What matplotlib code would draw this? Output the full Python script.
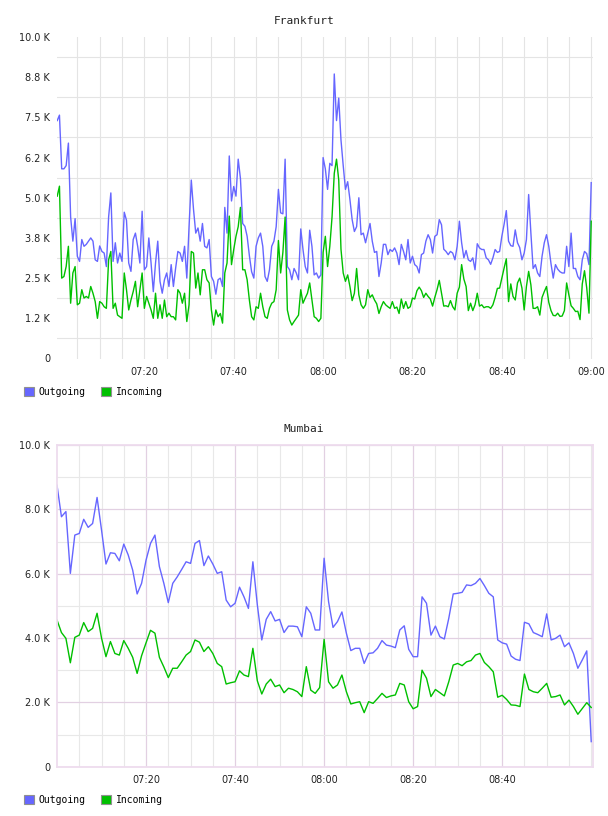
import numpy as np
import matplotlib
matplotlib.use("Agg")
import matplotlib.pyplot as plt
from matplotlib.patches import Patch

# ---------------- data (values in thousands) ----------------
# Frankfurt: one sample every 30 s, from 07:00:30 to 09:00:00
fra_outgoing = [
    7.4, 7.57, 5.9, 5.9, 6.0, 6.7, 4.4, 3.65, 4.35, 3.18,
    3.02, 3.7, 3.49, 3.55, 3.65, 3.75, 3.65, 3.07, 3.02, 3.5,
    3.33, 3.28, 2.86, 4.4, 5.15, 3.02, 3.6, 2.97, 3.28, 3.02,
    4.55, 4.3, 2.97, 2.71, 3.7, 3.9, 3.49, 2.97, 4.58, 2.76,
    2.86, 3.75, 2.97, 2.08, 2.97, 3.65, 2.4, 2.03, 2.45, 2.66,
    2.24, 2.92, 2.24, 2.81, 3.33, 3.28, 3.02, 3.49, 2.5, 4.1,
    5.55,
    4.64, 3.9, 4.06, 3.65, 4.2, 3.49, 3.44, 3.7, 2.55, 2.4,
    2.0, 2.45, 2.5, 2.24, 4.7, 3.9, 6.3, 4.9, 5.35, 5.05,
    6.2, 5.6, 4.2, 4.11, 3.8, 3.2, 2.7, 2.5, 3.49, 3.75,
    3.9, 3.49, 2.55, 2.4, 2.76, 3.49, 3.65, 4.1, 5.26, 4.53,
    4.5, 6.2, 2.86, 2.76, 2.45, 2.8, 2.66, 2.45, 4.03, 3.39,
    2.86, 2.66, 3.99, 3.49, 2.6, 2.66, 2.5, 2.6, 6.25,
    5.9, 5.26, 6.07, 6.0, 8.85, 7.4, 8.1, 6.8, 6.0, 5.26,
    5.5, 4.95, 4.32, 3.95, 4.1, 5.0, 3.85, 3.9, 3.6, 3.9,
    4.2, 3.65, 3.3, 3.33, 2.55, 2.97, 3.55, 3.55, 3.23, 3.39,
    3.33, 3.44, 3.28, 2.92, 3.55, 3.33, 3.07, 3.7, 2.97, 3.18,
    2.92, 2.86, 2.66, 3.23, 3.28, 3.65, 3.85, 3.7, 3.28, 3.8,
    3.85, 4.32, 4.16, 3.4, 3.33, 3.23, 3.33, 3.28, 3.07, 3.49,
    4.27, 3.6, 3.13, 3.36, 3.07, 3.02, 3.13, 2.76, 3.57, 3.44,
    3.39, 3.39, 3.13, 3.07, 2.93, 3.13, 3.39, 3.3, 3.33, 3.8,
    4.17, 4.6, 3.65, 3.51, 3.49, 4.0, 3.6, 3.45, 3.07, 3.28,
    3.7, 5.1, 3.9, 2.8, 2.92, 2.66, 2.55, 3.18, 3.6, 3.85,
    3.49, 2.95, 2.5, 2.92, 2.78, 2.7, 2.66, 2.66, 3.49, 2.86,
    3.9, 2.8, 2.8, 2.55, 2.45, 3.07, 3.33, 3.26, 2.92, 5.47,
]
fra_incoming = [
    5.05, 5.36, 2.5, 2.55, 2.86, 3.49, 1.72, 2.66, 2.86, 1.67,
    1.72, 2.14, 1.88, 1.93, 1.88, 2.24, 2.03, 1.77, 1.25, 1.77,
    1.72, 1.61, 1.56, 3.07, 3.33, 1.56, 1.72, 1.35, 1.3, 1.25,
    2.66, 2.14, 1.51, 1.82, 2.08, 2.4, 1.61, 2.14, 2.66, 1.56,
    1.93, 1.72, 1.51, 1.25, 2.03, 1.25, 1.67, 1.25, 1.82, 1.3,
    1.41, 1.3, 1.3, 1.2, 2.14, 2.03, 1.72, 2.03, 1.15, 1.67,
    3.33,
    3.28, 2.19, 2.66, 1.98, 2.76, 2.76, 2.45, 2.35, 1.51, 1.04,
    1.51, 1.3, 1.4, 1.1, 2.66, 2.97, 4.43, 2.92, 3.39, 3.8,
    4.1, 4.7, 2.76, 2.76, 2.45, 1.82, 1.3, 1.2, 1.61, 1.56,
    2.03, 1.61, 1.3, 1.25, 1.56, 1.72, 1.77, 2.14, 3.67, 2.66,
    3.3, 4.4, 1.51, 1.2, 1.04, 1.15, 1.25, 1.35, 2.14, 1.72,
    1.88, 2.03, 2.35, 1.82, 1.3, 1.25, 1.15, 1.25, 3.3,
    3.8, 2.86, 3.49, 4.4, 5.76, 6.2, 5.55, 3.4, 2.66, 2.4,
    2.6, 2.24, 1.8, 2.03, 2.8, 1.98, 1.67, 1.56, 1.67, 2.14,
    1.9, 1.98, 1.82, 1.7, 1.4, 1.61, 1.77, 1.67, 1.61, 1.56,
    1.77, 1.56, 1.6, 1.4, 1.85, 1.56, 1.77, 1.56, 1.61, 1.88,
    1.85, 2.11, 2.22, 2.11, 1.9, 2.03, 1.93, 1.85, 1.63, 1.9,
    2.14, 2.43, 2.03, 1.63, 1.64, 1.61, 1.8, 1.61, 1.51, 2.03,
    2.22, 2.92, 2.47, 2.24, 1.49, 1.72, 1.49, 1.67, 2.03, 1.63,
    1.67, 1.58, 1.61, 1.61, 1.56, 1.67, 1.9, 2.18, 2.19, 2.5,
    2.81, 3.1, 1.77, 2.32, 1.93, 1.82, 2.35, 2.5, 2.19, 1.51,
    2.24, 2.71, 2.29, 1.56, 1.56, 1.61, 1.35, 1.9, 2.08, 2.24,
    1.75, 1.49, 1.34, 1.33, 1.41, 1.31, 1.32, 1.49, 2.35, 1.98,
    1.64, 1.56, 1.46, 1.47, 1.21, 2.32, 2.73, 2.19, 1.41, 4.27,
]
# Mumbai: one sample per minute, 07:00 .. 09:00
mum_outgoing = [
    8.75, 7.77, 7.93, 6.01, 7.2, 7.25, 7.69, 7.44, 7.56, 8.37,
    7.36, 6.3, 6.65, 6.63, 6.4, 6.92, 6.58, 6.11, 5.37, 5.7,
    6.42, 6.94, 7.2, 6.22, 5.7, 5.1, 5.7, 5.9, 6.13, 6.37,
    6.32, 6.94, 7.03, 6.25, 6.55, 6.3, 6.01, 6.06, 5.18, 4.97,
    5.08, 5.58, 5.28, 4.92, 6.37, 5.03, 3.94, 4.58, 4.82, 4.53,
    4.58, 4.17, 4.37, 4.37, 4.35, 4.04, 4.97, 4.77, 4.25, 4.25,
    6.48, 5.13, 4.33, 4.51, 4.81, 4.15, 3.61, 3.68, 3.68, 3.21,
    3.52, 3.54, 3.68, 3.92, 3.78, 3.75, 3.7, 4.25, 4.38, 3.65,
    3.42, 3.42, 5.28, 5.08, 4.09, 4.37, 4.04, 3.97, 4.61, 5.37,
    5.39, 5.42, 5.65, 5.63, 5.7, 5.85, 5.63, 5.39, 5.28, 3.94,
    3.85, 3.81, 3.44, 3.34, 3.3, 4.49, 4.44, 4.17, 4.11, 4.04,
    4.75, 3.94, 3.99, 4.09, 3.73, 3.85, 3.52, 3.06, 3.32, 3.6,
    0.78,
]
mum_incoming = [
    4.56, 4.17, 3.99, 3.23, 4.02, 4.09, 4.48, 4.2, 4.3, 4.77,
    4.0, 3.42, 3.89, 3.52, 3.47, 3.92, 3.68, 3.4, 2.9, 3.45,
    3.85, 4.24, 4.15, 3.4, 3.1, 2.77, 3.06, 3.06, 3.26, 3.47,
    3.58, 3.94, 3.87, 3.58, 3.73, 3.52, 3.21, 3.11, 2.57, 2.61,
    2.64, 2.98, 2.85, 2.8, 3.68, 2.67, 2.26, 2.57, 2.72, 2.49,
    2.54, 2.3, 2.44, 2.4, 2.33, 2.18, 3.11, 2.38, 2.28, 2.46,
    3.96, 2.64, 2.44, 2.54, 2.85, 2.33, 1.95, 1.99, 2.02, 1.68,
    2.02, 1.97, 2.12, 2.28, 2.15, 2.2, 2.23, 2.59, 2.54, 2.02,
    1.8, 1.87, 3.0, 2.75, 2.18, 2.4, 2.3, 2.2, 2.64, 3.16,
    3.21, 3.14, 3.26, 3.3, 3.47, 3.52, 3.24, 3.11, 2.95, 2.16,
    2.22, 2.09, 1.92, 1.91, 1.87, 2.88, 2.4, 2.33, 2.3, 2.44,
    2.59, 2.16, 2.18, 2.23, 1.92, 2.07, 1.87, 1.63, 1.81, 1.99,
    1.84,
]
series_names = ["Outgoing", "Incoming"]
x_tick_minutes = [20, 40, 60, 80, 100, 120]
x_tick_labels = ["07:20", "07:40", "08:00", "08:20", "08:40", "09:00"]
fra_y_ticks = [0, 1.25, 2.5, 3.75, 5.0, 6.25, 7.5, 8.75, 10.0]
fra_y_labels = ["0", "1.2 K", "2.5 K", "3.8 K", "5.0 K", "6.2 K", "7.5 K", "8.8 K", "10.0 K"]
mum_y_ticks = [0, 2, 4, 6, 8, 10]
mum_y_labels = ["0", "2.0 K", "4.0 K", "6.0 K", "8.0 K", "10.0 K"]

# minutes after 07:00
fra_t = np.arange(1, len(fra_outgoing) + 1) * 0.5
mum_t = np.arange(len(mum_outgoing)) * 1.0

BLUE = "#6666ff"
GREEN = "#00c000"
TXT = "#222222"

W, H = 608, 816
fig = plt.figure(figsize=(W / 100, H / 100), dpi=100)
fig.patch.set_facecolor("white")


def axes_px(left, top, right, bottom):
    return fig.add_axes([left / W, 1 - bottom / H, (right - left) / W, (bottom - top) / H])


def style_ticks(ax):
    ax.tick_params(axis="both", which="both", length=0, labelsize=7, labelcolor=TXT)
    ax.tick_params(axis="x", pad=6)
    ax.tick_params(axis="y", pad=5)
    ax.set_axisbelow(True)


# ---------------- Frankfurt ----------------
ax1 = axes_px(57, 37, 593, 358.5)
ax1.plot(fra_t, fra_outgoing, color=BLUE, lw=1.0)
ax1.plot(fra_t, fra_incoming, color=GREEN, lw=1.0)
ax1.set_xlim(0.45, 120.4)
ax1.set_ylim(0, 10)
for s in ax1.spines.values():
    s.set_visible(False)
ax1.set_yticks(fra_y_ticks)
ax1.set_yticklabels(fra_y_labels)
ax1.set_yticks([v + 0.625 for v in fra_y_ticks[:-1]], minor=True)
ax1.set_xticks(x_tick_minutes)
ax1.set_xticklabels(x_tick_labels)
ax1.set_xticks([m for m in range(5, 121, 5) if m not in x_tick_minutes], minor=True)
ax1.xaxis.grid(True, which="both", color="#e4e4e4", lw=0.8)
ax1.yaxis.grid(True, which="minor", color="#e4e4e4", lw=0.8)
ax1.yaxis.grid(False, which="major")
style_ticks(ax1)
fig.text(304 / W, 1 - 20.5 / H, "Frankfurt", ha="center", va="center",
         family="DejaVu Sans Mono", size=8, color=TXT)

# ---------------- Mumbai ----------------
ax2 = axes_px(57, 445, 593, 766.7)
ax2.plot(mum_t, mum_outgoing, color=BLUE, lw=1.0)
ax2.plot(mum_t, mum_incoming, color=GREEN, lw=1.0)
ax2.set_xlim(0, 120.4)
ax2.set_ylim(0, 10)
for s in ax2.spines.values():
    s.set_color("#eedcee")
    s.set_linewidth(1.3)
ax2.set_yticks(mum_y_ticks)
ax2.set_yticklabels(mum_y_labels)
ax2.set_yticks([1, 3, 5, 7, 9], minor=True)
ax2.set_xticks(x_tick_minutes[:-1])
ax2.set_xticklabels(x_tick_labels[:-1])
ax2.set_xticks([m for m in range(5, 121, 5) if m not in x_tick_minutes[:-1]], minor=True)
ax2.grid(True, which="major", color="#e2d0e2", lw=0.9)
ax2.grid(True, which="minor", color="#e8e8e8", lw=0.8)
style_ticks(ax2)
fig.text(304 / W, 1 - 428.5 / H, "Mumbai", ha="center", va="center",
         family="DejaVu Sans Mono", size=8, color=TXT)

# ---------------- legends ----------------
for ycen in (392, 800):
    handles = [Patch(facecolor=BLUE, edgecolor="#909090", lw=0.8),
               Patch(facecolor=GREEN, edgecolor="#909090", lw=0.8)]
    fig.legend(handles, series_names, loc="center left",
               bbox_to_anchor=(24 / W, 1 - ycen / H), ncol=2, frameon=False,
               prop={"family": "DejaVu Sans Mono", "size": 7},
               handlelength=1.0, handleheight=1.0, handletextpad=0.5,
               columnspacing=1.6, borderpad=0, borderaxespad=0)

fig.savefig("out.png", dpi=100)
